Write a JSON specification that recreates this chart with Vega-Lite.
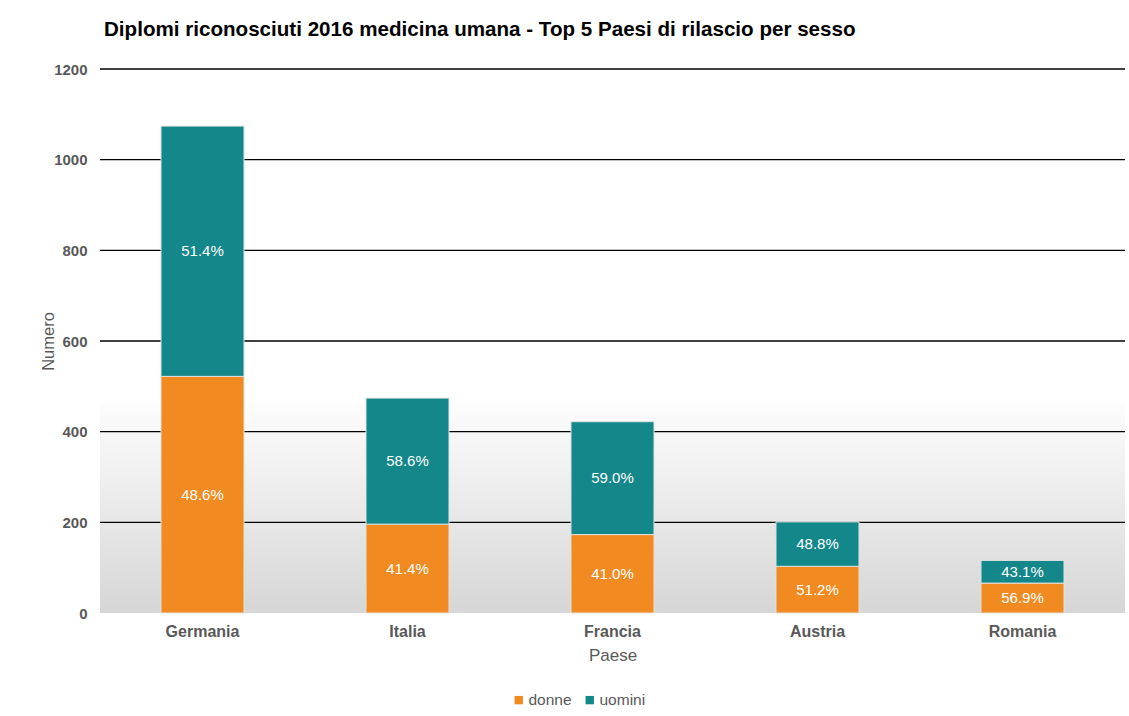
{
  "$schema": "https://vega.github.io/schema/vega-lite/v6.json",
  "autosize": {"type": "none"},
  "width": 1025,
  "height": 544,
  "padding": {"left": 100, "top": 69, "right": 4, "bottom": 103},
  "background": "white",
  "config": {
    "font": "Liberation Sans",
    "view": {"stroke": null},
    "axis": {"labelColor": "#595959", "titleColor": "#595959", "titleFontWeight": "normal"}
  },
  "title": {
    "text": "Diplomi riconosciuti 2016 medicina umana - Top 5 Paesi di rilascio per sesso",
    "anchor": "start",
    "frame": "group",
    "fontSize": 20.6,
    "fontWeight": "bold",
    "color": "#000000",
    "dx": 4,
    "offset": 21
  },
  "datasets": {
    "bars": [
      {"Paese": "Germania", "sesso": "donne", "n": 522, "pct": "48.6%"},
      {"Paese": "Germania", "sesso": "uomini", "n": 552, "pct": "51.4%"},
      {"Paese": "Italia", "sesso": "donne", "n": 196, "pct": "41.4%"},
      {"Paese": "Italia", "sesso": "uomini", "n": 278, "pct": "58.6%"},
      {"Paese": "Francia", "sesso": "donne", "n": 173, "pct": "41.0%"},
      {"Paese": "Francia", "sesso": "uomini", "n": 249, "pct": "59.0%"},
      {"Paese": "Austria", "sesso": "donne", "n": 103, "pct": "51.2%"},
      {"Paese": "Austria", "sesso": "uomini", "n": 98, "pct": "48.8%"},
      {"Paese": "Romania", "sesso": "donne", "n": 66, "pct": "56.9%"},
      {"Paese": "Romania", "sesso": "uomini", "n": 50, "pct": "43.1%"}
    ],
    "band": [{"lo": 0, "hi": 463}],
    "grid": [{"g": 200}, {"g": 400}, {"g": 600}, {"g": 800}, {"g": 1000}, {"g": 1200}]
  },
  "layer": [
    {
      "data": {"name": "band"},
      "mark": {
        "type": "rect",
        "color": {
          "gradient": "linear", "x1": 0, "y1": 0, "x2": 0, "y2": 1,
          "stops": [{"offset": 0, "color": "#fdfdfd"}, {"offset": 1, "color": "#d6d6d6"}]
        }
      },
      "encoding": {
        "y": {"field": "hi", "type": "quantitative", "scale": {"domain": [0, 1200], "nice": false}},
        "y2": {"field": "lo"}
      }
    },
    {
      "data": {"name": "grid"},
      "mark": {"type": "rule", "color": "#000000", "strokeWidth": 1.3},
      "encoding": {
        "y": {"field": "g", "type": "quantitative"}
      }
    },
    {
      "data": {"name": "bars"},
      "mark": {"type": "bar", "stroke": "#e2e2e2", "strokeWidth": 1},
      "encoding": {
        "x": {
          "field": "Paese", "type": "nominal",
          "sort": ["Germania", "Italia", "Francia", "Austria", "Romania"],
          "scale": {"paddingInner": 0.595, "paddingOuter": 0.2975},
          "axis": {
            "title": "Paese", "titleFontSize": 17, "titlePadding": 8,
            "labelAngle": 0, "labelFontWeight": "bold", "labelFontSize": 16,
            "labelPadding": 10, "domain": false, "ticks": false
          }
        },
        "y": {
          "field": "n", "type": "quantitative", "stack": "zero",
          "scale": {"domain": [0, 1200], "nice": false},
          "axis": {
            "title": "Numero", "titleFontSize": 16.5, "titlePadding": -3,
            "values": [0, 200, 400, 600, 800, 1000, 1200], "format": "d",
            "grid": false, "domain": false, "ticks": false,
            "labelFontWeight": "bold", "labelFontSize": 15, "labelPadding": 13
          }
        },
        "color": {
          "field": "sesso", "type": "nominal",
          "scale": {"domain": ["donne", "uomini"], "range": ["#F08A21", "#14878A"]},
          "legend": {
            "orient": "none", "legendX": 411, "legendY": 623,
            "title": null, "direction": "horizontal",
            "symbolType": "square", "symbolSize": 70, "symbolStrokeWidth": 0,
            "labelFontSize": 15.5, "labelColor": "#595959", "labelOffset": 2,
            "columnPadding": 10
          }
        },
        "order": {"field": "sesso"}
      }
    },
    {
      "data": {"name": "bars"},
      "transform": [
        {"stack": "n", "groupby": ["Paese"], "sort": [{"field": "sesso", "order": "ascending"}], "as": ["s0", "s1"]},
        {"calculate": "(datum.s0 + datum.s1) / 2", "as": "mid"}
      ],
      "mark": {"type": "text", "color": "white", "fontSize": 15, "align": "center", "baseline": "middle"},
      "encoding": {
        "x": {"field": "Paese", "type": "nominal", "sort": ["Germania", "Italia", "Francia", "Austria", "Romania"]},
        "y": {"field": "mid", "type": "quantitative"},
        "text": {"field": "pct"}
      }
    }
  ]
}
